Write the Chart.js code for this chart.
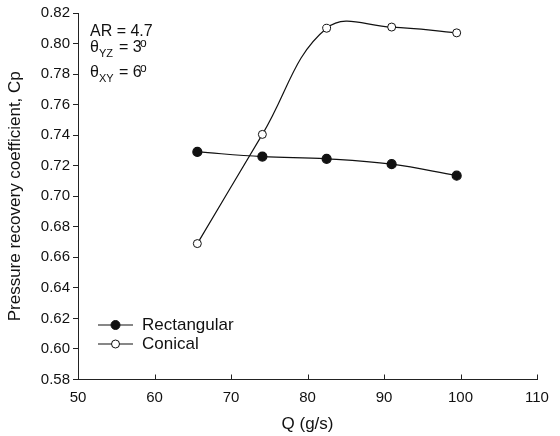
<!DOCTYPE html>
<html>
<head>
<meta charset="utf-8">
<script src="https://cdn.jsdelivr.net/npm/chart.js@4/dist/chart.umd.min.js"></script>
<style>
  html, body { margin: 0; padding: 0; background: #fff; }
  #wrap { width: 560px; height: 436px; position: relative; }
</style>
</head>
<body>
<div id="wrap"><canvas id="cpChart" width="560" height="436"></canvas></div>
<script>
// Data
const flowQ = [65.6, 74.1, 82.5, 91.0, 99.5];
const cpRectangular = [0.729, 0.726, 0.7245, 0.721, 0.7135];
const cpConical = [0.669, 0.7405, 0.810, 0.8108, 0.807];
const xTicks = [50, 60, 70, 80, 90, 100, 110];
const yTicks = [0.58, 0.60, 0.62, 0.64, 0.66, 0.68, 0.70, 0.72, 0.74, 0.76, 0.78, 0.80, 0.82];
const seriesNames = ['Rectangular', 'Conical'];

const FONT = '"Liberation Sans", Arial, sans-serif';

function toPoints(xs, ys) {
  return xs.map((x, i) => ({ x: x, y: ys[i] }));
}

// x ticks point up into the plot, so draw them by hand
const innerTicks = {
  id: 'innerTicks',
  afterDraw(chart) {
    const ctx = chart.ctx;
    const xs = chart.scales.x;
    ctx.save();
    ctx.strokeStyle = '#222';
    ctx.lineWidth = 1;
    xTicks.forEach(v => {
      const px = Math.round(xs.getPixelForValue(v)) + 0.5;
      ctx.beginPath();
      ctx.moveTo(px, xs.top);
      ctx.lineTo(px, xs.top - 5);
      ctx.stroke();
    });
    ctx.restore();
  }
};

// legend in lower-left corner and the AR / angle note
const notes = {
  id: 'notes',
  afterDraw(chart) {
    const ctx = chart.ctx;
    ctx.save();
    ctx.fillStyle = '#111';
    ctx.textBaseline = 'alphabetic';

    // annotation
    ctx.font = '16px ' + FONT;
    ctx.fillText('AR = 4.7', 90, 36);

    function angleLine(sub, val, y) {
      ctx.font = '16px ' + FONT;
      ctx.fillText('\u03B8', 90, y);
      ctx.font = '11px ' + FONT;
      ctx.fillText(sub, 99, y + 5);
      ctx.font = '16px ' + FONT;
      ctx.fillText('= ' + val, 119, y);
      ctx.font = '12px ' + FONT;
      ctx.fillText('o', 140, y - 5);
    }
    angleLine('YZ', '3', 52);
    angleLine('XY', '6', 77);

    // legend
    const rows = [325, 344];
    chart.data.datasets.forEach((ds, i) => {
      const y = rows[i];
      ctx.strokeStyle = ds.borderColor;
      ctx.lineWidth = 1.2;
      ctx.beginPath();
      ctx.moveTo(98, y);
      ctx.lineTo(133, y);
      ctx.stroke();
      ctx.beginPath();
      ctx.arc(115.5, y, ds.pointRadius, 0, Math.PI * 2);
      ctx.fillStyle = ds.pointBackgroundColor;
      ctx.fill();
      ctx.lineWidth = 1;
      ctx.stroke();
      ctx.fillStyle = '#111';
      ctx.font = '17px ' + FONT;
      ctx.textBaseline = 'middle';
      ctx.fillText(ds.label, 142, y);
      ctx.textBaseline = 'alphabetic';
    });
    ctx.restore();
  }
};

new Chart(document.getElementById('cpChart'), {
  type: 'line',
  data: {
    datasets: [
      {
        label: seriesNames[0],
        data: toPoints(flowQ, cpRectangular),
        borderColor: '#111',
        borderWidth: 1.2,
        pointRadius: 4.5,
        pointBackgroundColor: '#111',
        pointBorderColor: '#111',
        tension: 0.4
      },
      {
        label: seriesNames[1],
        data: toPoints(flowQ, cpConical),
        borderColor: '#111',
        borderWidth: 1.2,
        pointRadius: 4,
        pointBackgroundColor: '#fff',
        pointBorderColor: '#111',
        pointBorderWidth: 1,
        tension: 0.4
      }
    ]
  },
  options: {
    responsive: false,
    animation: false,
    devicePixelRatio: 1,
    layout: { padding: { top: 13, right: 23, left: 0, bottom: 0 } },
    plugins: {
      legend: { display: false },
      tooltip: { enabled: false }
    },
    scales: {
      x: {
        type: 'linear',
        min: 50,
        max: 110,
        afterBuildTicks: s => { s.ticks = xTicks.map(v => ({ value: v })); },
        afterFit: s => { s.height = 56.5; },
        grid: { display: false, drawTicks: false },
        border: { color: '#222', width: 1 },
        ticks: { color: '#111', font: { family: FONT, size: 15 }, padding: 9 },
        title: {
          display: true,
          text: 'Q (g/s)',
          color: '#111',
          font: { family: FONT, size: 17 },
          padding: { top: 0, bottom: 1 }
        }
      },
      y: {
        min: 0.58,
        max: 0.82,
        afterBuildTicks: s => { s.ticks = yTicks.map(v => ({ value: v })); },
        afterFit: s => { s.width = 78; },
        grid: { drawOnChartArea: false, drawTicks: true, tickLength: 5, color: '#222' },
        border: { color: '#222', width: 1 },
        ticks: {
          color: '#111',
          font: { family: FONT, size: 15 },
          padding: 3,
          callback: v => v.toFixed(2)
        },
        title: {
          display: true,
          text: 'Pressure recovery coefficient, Cp',
          color: '#111',
          font: { family: FONT, size: 17 },
          padding: { top: 5, bottom: 0 }
        }
      }
    }
  },
  plugins: [innerTicks, notes]
});
</script>
</body>
</html>
